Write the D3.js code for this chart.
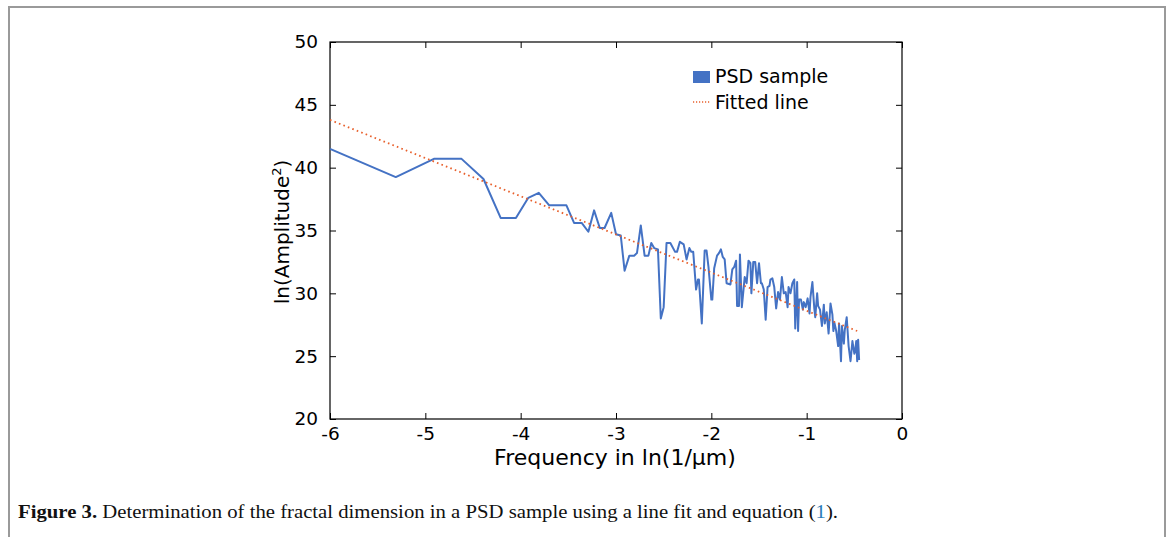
<!DOCTYPE html>
<html>
<head>
<meta charset="utf-8">
<script src="https://cdn.jsdelivr.net/npm/d3@7"></script>
<style>
  body { margin: 0; background: #fff; }
  svg { display: block; }
</style>
</head>
<body>
<div id="chart"></div>
<script>
// PSD sample
var psd_x = [-6.00, -5.31, -4.91, -4.62, -4.39, -4.21, -4.05, -3.92, -3.81, -3.70,
  -3.52, -3.44, -3.36, -3.29, -3.23, -3.17, -3.12, -3.05, -3.00, -2.95,
  -2.91, -2.86, -2.81, -2.78, -2.74, -2.70, -2.66, -2.63, -2.60, -2.56,
  -2.53, -2.50, -2.47, -2.43, -2.38, -2.36, -2.33, -2.29, -2.26, -2.23,
  -2.21, -2.19, -2.16, -2.14, -2.13, -2.10, -2.07, -2.05, -2.03, -2.00,
  -1.99, -1.97, -1.94, -1.92, -1.90, -1.88, -1.86, -1.84, -1.80, -1.78,
  -1.76, -1.74, -1.73, -1.71, -1.70, -1.68, -1.66, -1.65, -1.63, -1.61,
  -1.59, -1.58, -1.56, -1.54, -1.52, -1.50, -1.48, -1.47, -1.45, -1.43,
  -1.41, -1.39, -1.38, -1.36, -1.34, -1.32, -1.30, -1.28, -1.26, -1.24,
  -1.22, -1.20, -1.19, -1.17, -1.15, -1.13, -1.12, -1.10, -1.09, -1.08,
  -1.06, -1.04, -1.03, -1.01, -0.99, -0.97, -0.96, -0.94, -0.92, -0.91,
  -0.89, -0.88, -0.86, -0.84, -0.82, -0.81, -0.79, -0.77, -0.75, -0.73,
  -0.72, -0.71, -0.69, -0.67, -0.66, -0.64, -0.63, -0.61, -0.60, -0.58,
  -0.56, -0.54, -0.52, -0.50, -0.49, -0.48, -0.47, -0.46, -0.45];
var psd_y = [41.5, 39.25, 40.7, 40.7, 39.1, 36.0, 36.0, 37.6, 38.0, 37.0,
  37.0, 35.6, 35.6, 34.9, 36.6, 35.2, 35.2, 36.4, 34.7, 34.6,
  31.8, 33.0, 33.0, 33.2, 35.4, 33.0, 33.0, 34.0, 33.6, 33.5,
  28.0, 28.9, 34.0, 34.0, 33.3, 33.3, 34.1, 33.9, 32.7, 33.6,
  33.3, 33.3, 30.3, 31.1, 31.1, 27.6, 33.4, 33.4, 32.1, 29.5,
  29.5, 32.0, 33.0, 33.2, 33.5, 32.9, 32.7, 30.8, 30.7, 31.9,
  32.1, 32.6, 29.0, 29.0, 33.1, 28.9, 30.5, 31.3, 30.8, 32.6,
  32.4, 30.0, 32.5, 32.5, 30.8, 32.4, 30.8, 30.8, 30.3, 27.9,
  30.5, 30.6, 31.1, 31.2, 30.5, 28.8, 30.1, 29.5, 31.3, 30.0,
  30.1, 28.9, 30.5, 30.0, 30.8, 31.1, 27.2, 30.9, 27.0, 29.5,
  29.5, 28.7, 29.3, 28.9, 29.6, 28.4, 29.7, 30.9, 28.8, 28.1,
  30.0, 29.0, 28.7, 27.4, 29.1, 27.6, 28.5, 26.8, 29.2, 28.3,
  27.0, 27.7, 27.0, 25.8, 27.6, 24.6, 27.4, 26.0, 27.1, 28.1,
  25.8, 24.6, 26.2, 25.2, 25.5, 26.2, 24.6, 26.3, 24.7];

// fitted line end points
var fit_x = [-6.0, -0.47];
var fit_y = [43.8, 27.0];

var x_ticks = [-6, -5, -4, -3, -2, -1, 0];
var y_ticks = [20, 25, 30, 35, 40, 45, 50];
var legend_labels = ["PSD sample", "Fitted line"];

var W = 1171, H = 537;
var blue = "#4472c4", orange = "#e8602c";
var font = "'DejaVu Sans', Verdana, sans-serif";

var svg = d3.select("#chart").append("svg")
    .attr("width", W)
    .attr("height", H);

// page frame
svg.append("rect")
    .attr("x", 9).attr("y", 7)
    .attr("width", 1156).attr("height", 560)
    .attr("fill", "none")
    .attr("stroke", "#9a9a9a")
    .attr("stroke-width", 2);

var x = d3.scaleLinear().domain([-6, 0]).range([330, 902]);
var y = d3.scaleLinear().domain([20, 50]).range([419, 42]);

function styleAxis(g) {
  g.select(".domain").remove();
  g.selectAll("line").attr("stroke", "#000").attr("stroke-width", 1);
  g.selectAll("text").attr("font-family", font).attr("font-size", "18.5px").attr("fill", "#000");
}

svg.append("g")
    .attr("transform", "translate(0,419)")
    .call(d3.axisBottom(x).tickValues(x_ticks).tickSize(-6).tickPadding(8)
      .tickFormat(function(d) { return d < 0 ? "-" + Math.abs(d) : d; }))
    .call(styleAxis);

svg.append("g")
    .attr("transform", "translate(0,42)")
    .call(d3.axisTop(x).tickValues(x_ticks).tickSize(-6).tickFormat(""))
    .call(styleAxis);

svg.append("g")
    .attr("transform", "translate(330,0)")
    .call(d3.axisLeft(y).tickValues(y_ticks).tickSize(-6).tickPadding(12))
    .call(styleAxis);

svg.append("g")
    .attr("transform", "translate(902,0)")
    .call(d3.axisRight(y).tickValues(y_ticks).tickSize(-6).tickFormat(""))
    .call(styleAxis);

// plot box
svg.append("rect")
    .attr("x", x(-6)).attr("y", y(50))
    .attr("width", x(0) - x(-6)).attr("height", y(20) - y(50))
    .attr("fill", "none")
    .attr("stroke", "#000")
    .attr("stroke-width", 1.2);

var psd = psd_x.map(function(d, i) { return [d, psd_y[i]]; });
var fit = fit_x.map(function(d, i) { return [d, fit_y[i]]; });

var line = d3.line()
    .x(function(d) { return x(d[0]); })
    .y(function(d) { return y(d[1]); });

svg.append("path")
    .datum(psd)
    .attr("d", line)
    .attr("fill", "none")
    .attr("stroke", blue)
    .attr("stroke-width", 2)
    .attr("stroke-linejoin", "round");

svg.append("path")
    .datum(fit)
    .attr("d", line)
    .attr("fill", "none")
    .attr("stroke", orange)
    .attr("stroke-width", 1.8)
    .attr("stroke-dasharray", "1.6,3.2");

// axis titles
svg.append("text")
    .attr("x", 615).attr("y", 465)
    .attr("text-anchor", "middle")
    .attr("font-family", font)
    .attr("font-size", "22px")
    .text("Frequency in ln(1/\u03bcm)");

var yt = svg.append("text")
    .attr("transform", "translate(289,232) rotate(-90)")
    .attr("text-anchor", "middle")
    .attr("font-family", font)
    .attr("font-size", "20px");
yt.append("tspan").text("ln(Amplitude");
yt.append("tspan").attr("font-size", "13px").attr("dy", -8).text("2");
yt.append("tspan").attr("dy", 8).text(")");

// legend
var leg = svg.append("g");
leg.append("rect")
    .attr("x", 693).attr("y", 71)
    .attr("width", 17).attr("height", 12)
    .attr("fill", blue);
leg.append("line")
    .attr("x1", 693).attr("x2", 711)
    .attr("y1", 102).attr("y2", 102)
    .attr("stroke", orange)
    .attr("stroke-width", 1.6)
    .attr("stroke-dasharray", "1.2,1.8");
leg.selectAll(".leg_text")
    .data(legend_labels)
  .enter().append("text")
    .attr("class", "leg_text")
    .attr("x", 715)
    .attr("y", function(d, i) { return 83 + i * 26; })
    .attr("font-family", font)
    .attr("font-size", "19px")
    .text(function(d) { return d; });

// caption
var cap = svg.append("text")
    .attr("x", 18).attr("y", 518)
    .attr("font-family", "'Liberation Serif', 'Times New Roman', serif")
    .attr("font-size", "19px")
    .attr("fill", "#111")
    .attr("textLength", 820)
    .attr("lengthAdjust", "spacingAndGlyphs");
cap.append("tspan").attr("font-weight", "bold").text("Figure 3.");
cap.append("tspan").text(" Determination of the fractal dimension in a PSD sample using a line fit and equation (");
cap.append("tspan").attr("fill", "#2b7bb9").text("1");
cap.append("tspan").text(").");
</script>
</body>
</html>
